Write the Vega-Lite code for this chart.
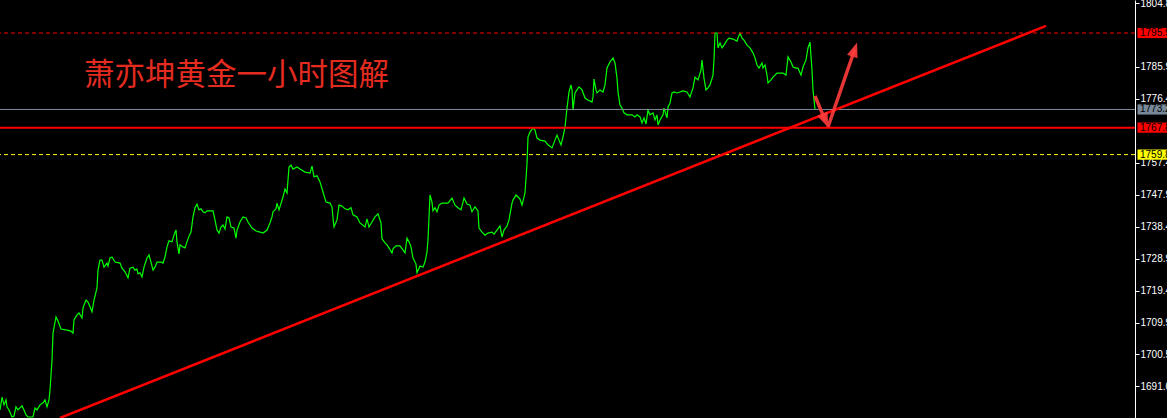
{
  "$schema": "https://vega.github.io/schema/vega-lite/v6.json",
  "width": 1135,
  "height": 418,
  "autosize": {"type": "none"},
  "padding": {"left": 0, "top": 0, "right": 32, "bottom": 0},
  "background": "#000000",
  "config": {
    "view": {"stroke": null},
    "axisY": {
      "domainColor": "#ffffff",
      "domainWidth": 1,
      "tickColor": "#ffffff",
      "tickSize": 4,
      "labelColor": "#ffffff",
      "labelFont": "Liberation Sans",
      "labelFontSize": 10,
      "labelPadding": 1,
      "labelOverlap": false,
      "labelBound": false,
      "labelFlush": false,
      "grid": false
    }
  },
  "datasets": {
    "price": [
      {"bar":0,"price":1684.0},{"bar":2,"price":1687.8},{"bar":4,"price":1685.5},{"bar":6,"price":1687.0},{"bar":7,"price":1684.9},{"bar":9,"price":1684.0},{"bar":12,"price":1681.9},{"bar":14,"price":1682.2},{"bar":16,"price":1684.9},{"bar":18,"price":1684.0},{"bar":22,"price":1685.2},{"bar":24,"price":1684.0},{"bar":26,"price":1682.5},{"bar":28,"price":1681.9},{"bar":33,"price":1681.9},{"bar":35,"price":1684.6},{"bar":37,"price":1684.0},{"bar":40,"price":1685.5},{"bar":43,"price":1686.1},{"bar":45,"price":1687.0},{"bar":47,"price":1684.9},{"bar":49,"price":1687.0},{"bar":50,"price":1689.9},{"bar":52,"price":1698.8},{"bar":53,"price":1706.8},{"bar":56,"price":1711.6},{"bar":58,"price":1710.4},{"bar":61,"price":1708.0},{"bar":67,"price":1707.7},{"bar":71,"price":1707.4},{"bar":73,"price":1706.8},{"bar":74,"price":1710.7},{"bar":77,"price":1712.2},{"bar":79,"price":1712.8},{"bar":82,"price":1711.3},{"bar":83,"price":1714.3},{"bar":86,"price":1716.6},{"bar":88,"price":1716.0},{"bar":90,"price":1714.6},{"bar":92,"price":1713.1},{"bar":94,"price":1716.6},
      {"bar":97,"price":1720.2},{"bar":98,"price":1725.5},{"bar":100,"price":1728.5},{"bar":102,"price":1728.5},{"bar":104,"price":1726.4},{"bar":107,"price":1727.6},{"bar":108,"price":1726.7},{"bar":110,"price":1729.1},{"bar":112,"price":1729.4},{"bar":115,"price":1727.9},{"bar":120,"price":1727.6},{"bar":122,"price":1726.1},{"bar":125,"price":1725.0},{"bar":128,"price":1723.2},{"bar":130,"price":1726.1},{"bar":133,"price":1726.4},{"bar":135,"price":1725.5},{"bar":137,"price":1725.8},{"bar":138,"price":1724.4},{"bar":140,"price":1724.7},{"bar":142,"price":1723.5},{"bar":144,"price":1726.4},{"bar":147,"price":1729.1},{"bar":149,"price":1730.0},{"bar":151,"price":1727.9},{"bar":153,"price":1725.5},{"bar":155,"price":1726.4},{"bar":157,"price":1727.9},{"bar":161,"price":1727.9},{"bar":163,"price":1727.6},{"bar":165,"price":1729.4},{"bar":167,"price":1732.4},{"bar":169,"price":1734.2},{"bar":172,"price":1733.9},{"bar":174,"price":1735.9},{"bar":176,"price":1737.4},{"bar":177,"price":1733.9},{"bar":179,"price":1730.3},{"bar":180,"price":1733.0},{"bar":183,"price":1732.4},{"bar":185,"price":1732.1},{"bar":187,"price":1733.9},{"bar":189,"price":1735.6},{"bar":191,"price":1736.8},{"bar":193,"price":1741.3},{"bar":195,"price":1744.0},{"bar":197,"price":1745.1},{"bar":199,"price":1743.4},{"bar":201,"price":1743.7},{"bar":203,"price":1742.8},{"bar":205,"price":1742.5},{"bar":207,"price":1743.1},{"bar":211,"price":1743.1},{"bar":213,"price":1743.1},{"bar":215,"price":1740.4},{"bar":217,"price":1737.4},{"bar":219,"price":1736.5},{"bar":221,"price":1738.3},{"bar":223,"price":1738.9},{"bar":225,"price":1737.7},{"bar":227,"price":1741.3},{"bar":229,"price":1741.0},{"bar":231,"price":1738.3},{"bar":234,"price":1738.0},{"bar":236,"price":1735.0},{"bar":237,"price":1737.4},{"bar":240,"price":1739.8},{"bar":243,"price":1741.3},{"bar":246,"price":1741.0},{"bar":248,"price":1739.8},{"bar":252,"price":1738.0},{"bar":256,"price":1737.1},{"bar":260,"price":1736.8},{"bar":263,"price":1736.5},{"bar":267,"price":1737.4},{"bar":270,"price":1739.5},{"bar":272,"price":1741.3},{"bar":273,"price":1742.8},{"bar":276,"price":1743.7},{"bar":277,"price":1745.4},{"bar":279,"price":1743.4},
      {"bar":283,"price":1747.2},{"bar":285,"price":1749.6},{"bar":287,"price":1748.4},{"bar":289,"price":1756.1},{"bar":291,"price":1756.7},{"bar":293,"price":1755.5},{"bar":297,"price":1756.1},{"bar":300,"price":1755.5},{"bar":305,"price":1754.6},{"bar":310,"price":1754.3},{"bar":312,"price":1756.4},{"bar":314,"price":1753.2},{"bar":317,"price":1753.5},{"bar":320,"price":1751.7},{"bar":323,"price":1748.7},{"bar":326,"price":1745.7},{"bar":330,"price":1745.4},{"bar":332,"price":1744.3},{"bar":333,"price":1741.0},{"bar":334,"price":1738.3},{"bar":337,"price":1740.4},{"bar":339,"price":1744.8},{"bar":342,"price":1744.5},{"bar":345,"price":1743.7},{"bar":348,"price":1743.4},{"bar":351,"price":1744.0},{"bar":353,"price":1741.9},{"bar":357,"price":1741.3},{"bar":360,"price":1739.5},{"bar":365,"price":1738.3},{"bar":367,"price":1740.7},{"bar":369,"price":1738.3},{"bar":372,"price":1739.8},{"bar":375,"price":1741.3},{"bar":378,"price":1742.2},{"bar":381,"price":1739.5},{"bar":382,"price":1734.8},{"bar":385,"price":1733.6},{"bar":387,"price":1733.0},{"bar":389,"price":1732.1},{"bar":392,"price":1730.6},{"bar":393,"price":1731.8},{"bar":396,"price":1732.7},{"bar":400,"price":1732.7},{"bar":403,"price":1731.5},{"bar":405,"price":1730.6},{"bar":407,"price":1735.0},{"bar":409,"price":1733.9},{"bar":411,"price":1732.4},{"bar":413,"price":1729.1},{"bar":416,"price":1727.3},{"bar":417,"price":1724.7},{"bar":420,"price":1726.7},{"bar":423,"price":1726.4},{"bar":425,"price":1727.9},{"bar":427,"price":1730.9},{"bar":428,"price":1734.5},{"bar":430,"price":1747.8},{"bar":432,"price":1745.7},{"bar":433,"price":1743.1},{"bar":435,"price":1744.0},{"bar":437,"price":1742.8},{"bar":439,"price":1744.8},{"bar":442,"price":1745.4},{"bar":445,"price":1745.4},{"bar":448,"price":1745.4},{"bar":452,"price":1746.9},{"bar":455,"price":1744.8},{"bar":458,"price":1744.0},{"bar":461,"price":1743.4},{"bar":463,"price":1745.7},{"bar":464,"price":1746.9},{"bar":467,"price":1745.1},{"bar":470,"price":1744.8},{"bar":472,"price":1742.8},{"bar":475,"price":1744.3},{"bar":478,"price":1743.1},{"bar":479,"price":1738.0},{"bar":482,"price":1736.8},{"bar":485,"price":1735.9},{"bar":488,"price":1736.5},{"bar":492,"price":1736.8},{"bar":494,"price":1736.2},{"bar":497,"price":1737.4},{"bar":500,"price":1738.6},{"bar":502,"price":1735.3},{"bar":504,"price":1737.4},{"bar":507,"price":1738.6},{"bar":509,"price":1740.4},{"bar":512,"price":1745.4},{"bar":513,"price":1746.3},{"bar":516,"price":1747.8},{"bar":518,"price":1747.2},{"bar":520,"price":1746.6},{"bar":522,"price":1744.8},{"bar":525,"price":1748.4},{"bar":527,"price":1757.0},{"bar":528,"price":1765.0},
      {"bar":530,"price":1766.5},{"bar":533,"price":1767.7},{"bar":535,"price":1767.1},{"bar":537,"price":1764.7},{"bar":540,"price":1764.1},{"bar":545,"price":1763.8},{"bar":548,"price":1762.7},{"bar":552,"price":1761.8},{"bar":555,"price":1764.1},{"bar":557,"price":1765.6},{"bar":559,"price":1764.1},{"bar":561,"price":1762.7},{"bar":563,"price":1765.0},{"bar":565,"price":1768.0},{"bar":567,"price":1773.6},{"bar":568,"price":1776.0},{"bar":569,"price":1778.4},{"bar":571,"price":1780.5},{"bar":572,"price":1779.0},{"bar":573,"price":1773.0},{"bar":575,"price":1778.1},{"bar":577,"price":1779.0},{"bar":579,"price":1779.9},{"bar":582,"price":1779.0},{"bar":585,"price":1776.6},{"bar":588,"price":1776.0},{"bar":592,"price":1775.4},{"bar":593,"price":1776.9},{"bar":594,"price":1782.2},{"bar":596,"price":1779.0},{"bar":597,"price":1778.1},{"bar":600,"price":1779.0},{"bar":603,"price":1778.4},{"bar":605,"price":1780.5},{"bar":607,"price":1785.5},{"bar":610,"price":1787.3},{"bar":613,"price":1788.5},{"bar":615,"price":1787.0},{"bar":617,"price":1782.5},{"bar":618,"price":1778.4},{"bar":620,"price":1774.5},{"bar":622,"price":1773.6},{"bar":624,"price":1772.2},{"bar":627,"price":1771.6},{"bar":632,"price":1771.6},{"bar":635,"price":1771.0},{"bar":637,"price":1771.6},{"bar":640,"price":1771.0},{"bar":642,"price":1769.2},{"bar":644,"price":1770.7},{"bar":646,"price":1768.9},{"bar":648,"price":1773.0},{"bar":650,"price":1771.6},{"bar":653,"price":1772.2},{"bar":655,"price":1770.1},{"bar":657,"price":1771.6},{"bar":658,"price":1768.6},{"bar":660,"price":1770.1},{"bar":663,"price":1771.6},{"bar":664,"price":1773.6},{"bar":667,"price":1770.7},{"bar":668,"price":1773.9},{"bar":670,"price":1775.1},{"bar":672,"price":1778.1},{"bar":674,"price":1778.4},{"bar":677,"price":1778.1},{"bar":680,"price":1778.4},{"bar":683,"price":1778.7},{"bar":687,"price":1778.4},{"bar":690,"price":1776.9},{"bar":693,"price":1779.6},{"bar":695,"price":1782.8},{"bar":698,"price":1782.0},{"bar":701,"price":1784.9},{"bar":702,"price":1787.9},{"bar":704,"price":1782.5},{"bar":706,"price":1779.0},{"bar":708,"price":1779.6},{"bar":710,"price":1780.5},{"bar":713,"price":1783.4},{"bar":714,"price":1787.9},{"bar":715,"price":1795.9},{"bar":717,"price":1795.9},{"bar":718,"price":1791.5},{"bar":720,"price":1792.9},{"bar":722,"price":1791.5},{"bar":724,"price":1792.3},{"bar":727,"price":1793.8},{"bar":729,"price":1794.4},{"bar":733,"price":1794.1},{"bar":737,"price":1793.5},{"bar":738,"price":1794.4},{"bar":740,"price":1795.9},{"bar":742,"price":1794.4},{"bar":744,"price":1793.8},{"bar":747,"price":1792.3},{"bar":750,"price":1791.5},{"bar":753,"price":1790.0},{"bar":755,"price":1788.5},{"bar":757,"price":1786.4},{"bar":759,"price":1785.5},{"bar":762,"price":1787.0},{"bar":763,"price":1785.5},{"bar":765,"price":1786.4},{"bar":767,"price":1783.4},{"bar":768,"price":1781.1},{"bar":771,"price":1782.0},{"bar":773,"price":1782.8},{"bar":777,"price":1784.0},{"bar":780,"price":1784.0},{"bar":783,"price":1784.0},{"bar":786,"price":1783.4},{"bar":788,"price":1788.8},{"bar":791,"price":1787.3},{"bar":793,"price":1785.8},{"bar":796,"price":1785.5},{"bar":798,"price":1785.5},{"bar":801,"price":1783.4},{"bar":803,"price":1785.8},{"bar":806,"price":1787.9},{"bar":808,"price":1791.5},{"bar":810,"price":1793.2},{"bar":812,"price":1784.9},{"bar":813,"price":1779.0},{"bar":815,"price":1773.2}
    ],
    "levels": [
      {"price": 1795.9, "label": "1795.9", "kind": "high"},
      {"price": 1773.2, "label": "1773.2", "kind": "bid"},
      {"price": 1767.8, "label": "1767.8", "kind": "support"},
      {"price": 1759.8, "label": "1759.8", "kind": "low"}
    ],
    "trend": [
      {"bar": 60, "price": 1681.6},
      {"bar": 1046, "price": 1798.0}
    ],
    "arrows": [
      {"leg": "down", "bar": 815, "price": 1777.2},
      {"leg": "down", "bar": 825.3, "price": 1769.9},
      {"leg": "up", "bar": 828, "price": 1768.0},
      {"leg": "up", "bar": 854.7, "price": 1791.0}
    ]
  },
  "encoding": {
    "y": {"field": "price", "type": "quantitative", "scale": {"domain": [1681.6, 1805.7], "nice": false, "zero": false},
      "axis": {
        "orient": "right",
        "values": [1681.5, 1691.0, 1700.5, 1709.9, 1719.4, 1728.9, 1738.4, 1747.9, 1757.4, 1776.4, 1785.9, 1804.8],
        "format": ".1f",
        "title": null
      }
    }
  },
  "layer": [
    {
      "data": {"name": "price"},
      "mark": {"type": "line", "color": "#00ff00", "strokeWidth": 1.2, "interpolate": "linear"},
      "encoding": {"x": {"field": "bar", "type": "quantitative", "scale": {"domain": [0, 1135], "nice": false, "zero": false}, "axis": null}}
    },
    {
      "data": {"name": "levels"},
      "transform": [{"filter": "datum.kind === 'high'"}],
      "mark": {"type": "rule", "color": "#ff0000", "strokeWidth": 1, "strokeDash": [4, 3]}
    },
    {
      "data": {"name": "levels"},
      "transform": [{"filter": "datum.kind === 'low'"}],
      "mark": {"type": "rule", "color": "#ffff00", "strokeWidth": 1, "strokeDash": [4, 3]}
    },
    {
      "data": {"name": "levels"},
      "transform": [{"filter": "datum.kind === 'bid'"}],
      "mark": {"type": "rule", "color": "#7f8c9a", "strokeWidth": 1}
    },
    {
      "data": {"name": "levels"},
      "transform": [{"filter": "datum.kind === 'support'"}],
      "mark": {"type": "rule", "color": "#ff0000", "strokeWidth": 2}
    },
    {
      "data": {"name": "trend"},
      "mark": {"type": "line", "color": "#ff0000", "strokeWidth": 2.5},
      "encoding": {"x": {"field": "bar", "type": "quantitative", "axis": null}}
    },
    {
      "data": {"name": "arrows"},
      "mark": {"type": "line", "color": "#ff3c3c", "strokeWidth": 3.5, "opacity": 0.9},
      "encoding": {"x": {"field": "bar", "type": "quantitative", "axis": null}, "detail": {"field": "leg"}}
    },
    {
      "data": {"values": [{"leg": "down", "bar": 825.3, "price": 1769.9}]},
      "mark": {"type": "point", "shape": "M0,-1L0.75,1L-0.75,1Z", "filled": true, "color": "#ff3c3c", "opacity": 0.9, "size": 220, "angle": 157},
      "encoding": {"x": {"field": "bar", "type": "quantitative", "axis": null}}
    },
    {
      "data": {"values": [{"leg": "up", "bar": 854.7, "price": 1791.0}]},
      "mark": {"type": "point", "shape": "M0,-1L0.75,1L-0.75,1Z", "filled": true, "color": "#ff3c3c", "opacity": 0.9, "size": 220, "angle": 19},
      "encoding": {"x": {"field": "bar", "type": "quantitative", "axis": null}}
    },
    {
      "data": {"values": [{"title": "萧亦坤黄金一小时图解", "bar": 84, "price": 1783.0}]},
      "mark": {"type": "text", "align": "left", "baseline": "middle", "font": "Noto Sans CJK SC", "fontSize": 30.5, "color": "#e42b20"},
      "encoding": {"x": {"field": "bar", "type": "quantitative", "axis": null}, "text": {"field": "title"}}
    },
    {
      "data": {"name": "levels"},
      "mark": {"type": "point", "shape": "M-1,-0.34L1,-0.34L1,0.34L-1,0.34Z", "filled": true, "opacity": 1, "size": 900},
      "encoding": {
        "x": {"datum": 1152.5, "type": "quantitative", "axis": null},
        "color": {"field": "kind", "type": "nominal", "legend": null,
          "scale": {"domain": ["high", "bid", "support", "low"], "range": ["#ff0000", "#778899", "#ff0000", "#ffff00"]}}
      }
    },
    {
      "data": {"name": "levels"},
      "mark": {"type": "text", "align": "left", "baseline": "middle", "font": "Liberation Sans", "fontSize": 10, "color": "#000000"},
      "encoding": {
        "x": {"datum": 1140, "type": "quantitative", "axis": null},
        "text": {"field": "label"}
      }
    }
  ]
}
